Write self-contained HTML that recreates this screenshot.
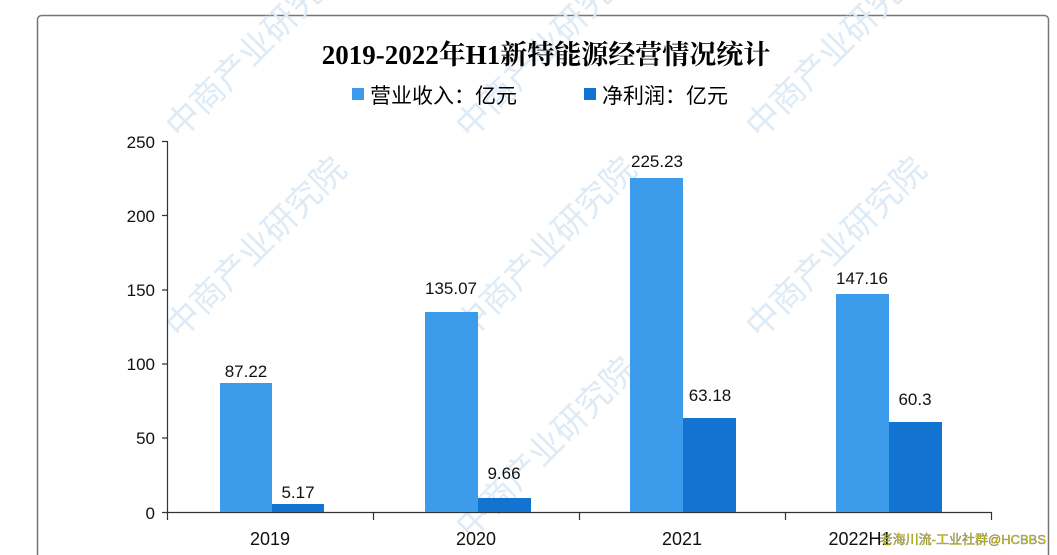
<!DOCTYPE html>
<html><head><meta charset="utf-8"><style>
html,body{margin:0;padding:0;background:#fff;width:1057px;height:555px;overflow:hidden}
text{font-family:"Liberation Sans","Noto Sans CJK SC",sans-serif}
</style></head><body>
<svg width="1057" height="555" xmlns="http://www.w3.org/2000/svg">
<rect x="37.5" y="15.5" width="1011" height="560" rx="4" fill="#fff" stroke="#777" stroke-width="1.5"/>
<g fill="#deebf6" font-size="34">
<text transform="translate(180,140) rotate(-45)">中商产业研究院</text>
<text transform="translate(470,140) rotate(-45)">中商产业研究院</text>
<text transform="translate(760,140) rotate(-45)">中商产业研究院</text>
<text transform="translate(180,340) rotate(-45)">中商产业研究院</text>
<text transform="translate(470,340) rotate(-45)">中商产业研究院</text>
<text transform="translate(760,340) rotate(-45)">中商产业研究院</text>
<text transform="translate(470,540) rotate(-45)">中商产业研究院</text>
</g>
<text x="546" y="64" text-anchor="middle" font-size="27" font-weight="bold" style="font-family:'Liberation Serif','Noto Serif CJK SC',serif">2019-2022年H1新特能源经营情况统计</text>
<rect x="352" y="88" width="12" height="12" fill="#3d9bec"/>
<text x="370" y="103" font-size="21">营业收入：亿元</text>
<rect x="584" y="88" width="12" height="12" fill="#1273d0"/>
<text x="602" y="103" font-size="21">净利润：亿元</text>
<g stroke="#333" stroke-width="1.2" fill="none">
<path d="M167.5 141V512.5H991.5"/>
<path d="M162 141.5H167.5M162 215.5H167.5M162 290H167.5M162 364H167.5M162 438H167.5M162 512.5H167.5"/>
<path d="M167.5 512V520M373.5 512V520M579.5 512V520M785.5 512V520M991.5 512V520"/>
</g>
<g font-size="17" fill="#111" text-anchor="end">
<text x="155" y="148">250</text><text x="155" y="222">200</text><text x="155" y="296">150</text>
<text x="155" y="370">100</text><text x="155" y="444">50</text><text x="155" y="519">0</text>
</g>
<g fill="#3d9bec">
<rect x="220" y="383" width="52" height="129"/>
<rect x="425" y="312" width="53" height="200"/>
<rect x="630" y="178" width="53" height="334"/>
<rect x="836" y="294" width="53" height="218"/>
</g>
<g fill="#1273d0">
<rect x="272" y="504" width="52" height="8"/>
<rect x="478" y="498" width="53" height="14"/>
<rect x="683" y="418" width="53" height="94"/>
<rect x="889" y="422" width="53" height="90"/>
</g>
<g font-size="17" fill="#111" text-anchor="middle" style="font-family:'Liberation Mono',monospace">
<text x="246" y="377">87.22</text><text x="298" y="498">5.17</text>
<text x="451" y="294">135.07</text><text x="504" y="479">9.66</text>
<text x="657" y="167">225.23</text><text x="710" y="401">63.18</text>
<text x="862" y="284">147.16</text><text x="915" y="405">60.3</text>
</g>
<g font-size="18" fill="#111" text-anchor="middle">
<text x="270" y="545">2019</text><text x="476" y="545">2020</text>
<text x="682" y="545">2021</text><text x="860" y="545">2022H1</text>
</g>
<text x="1046" y="544" font-size="13" fill="#d8d000" text-anchor="end" stroke="#555" stroke-width="0.3">老海川流-工业社群@HCBBS</text>
</svg>
</body></html>
